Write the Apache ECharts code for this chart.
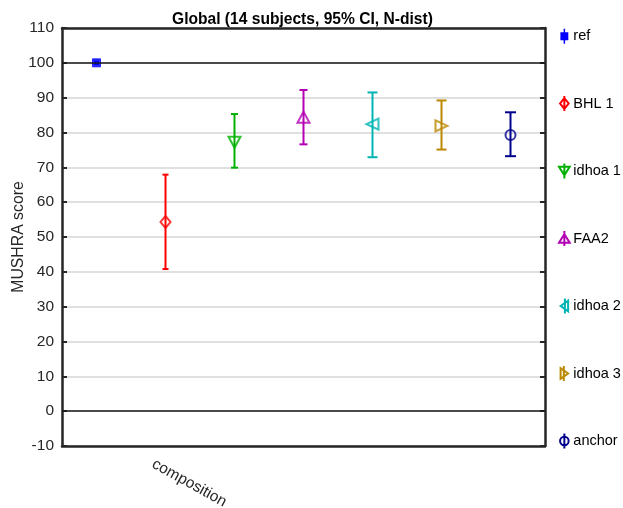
<!DOCTYPE html>
<html>
<head>
<meta charset="utf-8">
<script src="https://cdn.jsdelivr.net/npm/echarts@6/dist/echarts.min.js"></script>
<style>html,body{margin:0;padding:0;background:#fff}#c{width:623px;height:508px}</style>
</head>
<body>
<div id="c"></div>
<script>
// ---- data ----
const titleText = 'Global (14 subjects, 95% CI, N-dist)';
const categoryLabel = 'composition';
const seriesNames = ['ref', 'BHL 1', 'idhoa 1', 'FAA2', 'idhoa 2', 'idhoa 3', 'anchor'];
const xPositions = [0.5, 1.5, 2.5, 3.5, 4.5, 5.5, 6.5];
const means = [100, 54.3, 77.2, 84.4, 82.4, 81.9, 79.3];
const lower = [99.6, 40.8, 69.9, 76.6, 72.9, 75.1, 73.2];
const upper = [100.4, 67.9, 85.3, 92.2, 91.5, 89.2, 85.8];
const yTicks = [-10, 0, 10, 20, 30, 40, 50, 60, 70, 80, 90, 100, 110];

// ---- styles ----
const colors = ['#0000ff', '#ff0000', '#00b000', '#b400b4', '#00b4b4', '#bb8800', '#00008c'];
const symbols = ['rect', 'diamond', 'triangle', 'triangle', 'triangle', 'triangle', 'circle'];
const symbolRot = [0, 0, 180, 0, 90, -90, 0];
const symbolSizes = [[8, 8], [10, 12], [12, 11], [12, 11], [11, 12], [11, 12], [10, 10]];
const capWidths = [5, 6, 7, 8, 10, 10, 11];
const legendIcons = [
  'path://M6,0L6,14M3,4L9,4L9,10L3,10Z',
  'path://M6,0L6,14M6,2L10,7L6,12L2,7Z',
  'path://M6,0L6,14M1,3L11,3L6,11Z',
  'path://M6,0L6,14M1,11L11,11L6,3Z',
  'path://M6,0L6,14M2,7L9,2L9,12Z',
  'path://M6,0L6,14M10,7L3,2L3,12Z',
  'path://M6,0L6,14M6,3A4,4 0 1 1 6,11A4,4 0 1 1 6,3Z'
];

const FONT = '"Liberation Sans", Arial, Helvetica, sans-serif';
const axisColor = '#262626';

function errRenderer(cap) {
  return function (params, api) {
    const x = api.value(0), lo = api.value(2), hi = api.value(3);
    const pTop = api.coord([x, hi]);
    const pBot = api.coord([x, lo]);
    const style = { stroke: api.visual('color'), lineWidth: 2, fill: null };
    return {
      type: 'group',
      children: [
        { type: 'line', shape: { x1: pTop[0], y1: pTop[1], x2: pBot[0], y2: pBot[1] }, style: style },
        { type: 'line', shape: { x1: pTop[0] - cap / 2, y1: pTop[1], x2: pTop[0] + cap / 2, y2: pTop[1] }, style: style },
        { type: 'line', shape: { x1: pBot[0] - cap / 2, y1: pBot[1], x2: pBot[0] + cap / 2, y2: pBot[1] }, style: style }
      ]
    };
  };
}

const series = [];
seriesNames.forEach(function (name, i) {
  series.push({
    name: name,
    type: 'custom',
    renderItem: errRenderer(capWidths[i]),
    itemStyle: { color: colors[i] },
    encode: { x: 0, y: 1 },
    data: [[xPositions[i], means[i], lower[i], upper[i]]],
    z: 3,
    silent: true
  });
  series.push({
    name: name,
    type: 'scatter',
    symbol: symbols[i],
    symbolRotate: symbolRot[i],
    symbolSize: symbolSizes[i],
    itemStyle: i === 0
      ? { color: colors[i], borderColor: colors[i], borderWidth: 1 }
      : { color: 'rgba(0,0,0,0)', borderColor: colors[i], borderWidth: 2 },
    data: [[xPositions[i], means[i]]],
    z: 4,
    silent: true
  });
});
// black reference lines at 0 and 100
series.push({
  type: 'line',
  data: [],
  silent: true,
  markLine: {
    silent: true,
    symbol: 'none',
    label: { show: false },
    lineStyle: { color: '#1a1a1a', width: 1.5, type: 'solid' },
    data: [{ yAxis: 0 }, { yAxis: 100 }],
    animation: false
  },
  z: 2
});

const chart = echarts.init(document.getElementById('c'), null, { renderer: 'canvas' });
chart.setOption({
  animation: false,
  backgroundColor: '#ffffff',
  textStyle: { fontFamily: FONT },
  title: {
    text: titleText,
    left: 167, top: 7,
    textStyle: { fontFamily: FONT, fontSize: 15.6, fontWeight: 'bold', color: '#000' }
  },
  grid: { left: 62, right: 78, top: 28, bottom: 62, containLabel: false, outerBoundsMode: 'none' },
  legend: {
    orient: 'vertical',
    left: 553, top: 23,
    itemWidth: 12, itemHeight: 15,
    itemGap: 50.5,
    textStyle: { fontFamily: FONT, fontSize: 14.5, color: '#000', padding: [0, 0, 0, -2] },
    data: seriesNames.map(function (n, i) {
      return {
        name: n,
        icon: legendIcons[i],
        itemStyle: i === 0
          ? { color: colors[i], borderColor: colors[i], borderWidth: 1.5 }
          : { color: 'rgba(0,0,0,0)', borderColor: colors[i], borderWidth: 2 }
      };
    }),
    selectedMode: false
  },
  xAxis: [
    {
      type: 'value', min: 0, max: 7, position: 'bottom',
      axisLine: { show: true, onZero: false, lineStyle: { color: axisColor, width: 2.5 } },
      axisTick: { show: false }, axisLabel: { show: false }, splitLine: { show: false }
    },
    {
      type: 'value', min: 0, max: 7, position: 'top',
      axisLine: { show: true, onZero: false, lineStyle: { color: axisColor, width: 2.5 } },
      axisTick: { show: false }, axisLabel: { show: false }, splitLine: { show: false }
    }
  ],
  yAxis: [
    {
      type: 'value', min: yTicks[0], max: yTicks[yTicks.length - 1], interval: 10, position: 'left',
      name: 'MUSHRA score', nameLocation: 'middle', nameGap: 35.5, nameMoveOverlap: false,
      nameTextStyle: { fontFamily: FONT, fontSize: 15.8, color: '#262626' },
      axisLine: { show: true, onZero: false, lineStyle: { color: axisColor, width: 2.5 } },
      axisTick: { show: true, inside: true, length: 5, lineStyle: { color: axisColor, width: 2 } },
      axisLabel: { fontFamily: FONT, fontSize: 15.5, color: '#262626', margin: 8 },
      splitLine: { show: true, lineStyle: { color: '#e0e0e0', width: 2 } }
    },
    {
      type: 'value', min: yTicks[0], max: yTicks[yTicks.length - 1], interval: 10, position: 'right',
      axisLine: { show: true, onZero: false, lineStyle: { color: axisColor, width: 2.5 } },
      axisTick: { show: true, inside: true, length: 5, lineStyle: { color: axisColor, width: 2 } },
      axisLabel: { show: false },
      splitLine: { show: false }
    }
  ],
  graphic: [
    {
      type: 'text',
      x: 157, y: 456,
      rotation: -Math.PI * 29 / 180,
      style: { text: categoryLabel, font: '15.5px ' + FONT, fill: '#262626', textAlign: 'left', textVerticalAlign: 'top' },
      silent: true
    }
  ],
  series: series
});
</script>
</body>
</html>
